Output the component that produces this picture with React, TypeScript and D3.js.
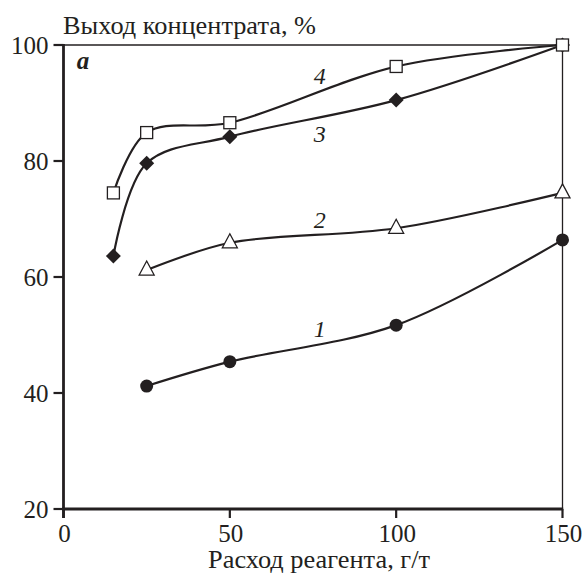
import React from "react";
import * as d3 from "d3";

const xTicks = [0, 50, 100, 150];
const yTicks = [20, 40, 60, 80, 100];

const s1x = [25, 50, 100, 150];
const s1y = [41.2, 45.4, 51.7, 66.4];
const s2x = [25, 50, 100, 150];
const s2y = [61.2, 65.9, 68.4, 74.5];
const s3x = [15, 25, 50, 100, 150];
const s3y = [63.6, 79.6, 84.2, 90.5, 100];
const s4x = [15, 25, 50, 100, 150];
const s4y = [74.5, 84.9, 86.6, 96.3, 100];

const seriesLabels = ["1", "2", "3", "4"];
const labelPos = [
  [77, 49.7],
  [77, 68.4],
  [77, 83.3],
  [77, 93.3],
];

const title = "Выход концентрата, %";
const xTitle = "Расход реагента, г/т";
const panel = "a";

const W = 583;
const H = 574;
const ink = "#231f20";

export default function App() {
  const x = d3.scaleLinear().domain([0, 150]).range([63.5, 562.5]);
  const y = d3.scaleLinear().domain([20, 100]).range([509, 45]);
  const zip = (xs: number[], ys: number[]) => xs.map((v, i) => [v, ys[i]] as [number, number]);
  const line = d3
    .line<[number, number]>()
    .x((d) => x(d[0]))
    .y((d) => y(d[1]))
    .curve(d3.curveCatmullRom.alpha(0.5));

  const d1 = zip(s1x, s1y);
  const d2 = zip(s2x, s2y);
  const d3s = zip(s3x, s3y);
  const d4 = zip(s4x, s4y);

  return (
    <svg width={W} height={H} style={{ position: "absolute", left: 0, top: 0, background: "#fff" }}>
      <style>{`text { font-family: "Liberation Serif", serif; }`}</style>
      <rect width={W} height={H} fill="#fff" />
      <line x1={x(0)} x2={x(150)} y1={y(100)} y2={y(100)} stroke={ink} strokeWidth={1.3} />
      <line x1={x(150)} x2={x(150)} y1={y(100)} y2={y(20)} stroke={ink} strokeWidth={1.3} />
      <line x1={x(0)} x2={x(0)} y1={y(100) - 1} y2={y(20) + 9} stroke={ink} strokeWidth={2.8} />
      <line x1={x(0) - 1.4} x2={x(150) + 0.7} y1={y(20)} y2={y(20)} stroke={ink} strokeWidth={2.8} />
      {yTicks.map((t) => (
        <g key={"y" + t}>
          <line x1={x(0) - 10} x2={x(0)} y1={y(t)} y2={y(t)} stroke={ink} strokeWidth={2.2} />
          <text x={48.5} y={y(t) + 8.5} textAnchor="end" fontSize={25} fill={ink}>
            {t}
          </text>
        </g>
      ))}
      {xTicks.map((t) => (
        <g key={"x" + t}>
          <line x1={x(t)} x2={x(t)} y1={y(20)} y2={y(20) + 9} stroke={ink} strokeWidth={2.2} />
          <text x={x(t) + 1} y={542} textAnchor="middle" fontSize={25} fill={ink}>
            {t}
          </text>
        </g>
      ))}
      <text x={63} y={34} fontSize={25} fill={ink} textLength={253} lengthAdjust="spacingAndGlyphs">
        {title}
      </text>
      <text x={208} y={568} fontSize={25} fill={ink} textLength={222} lengthAdjust="spacingAndGlyphs">
        {xTitle}
      </text>
      <text x={83} y={68.5} textAnchor="middle" fontSize={25} fontWeight="bold" fontStyle="italic" fill={ink}>
        {panel}
      </text>

      {[d1, d2, d3s, d4].map((d, i) => (
        <path key={"l" + i} d={line(d) || ""} fill="none" stroke={ink} strokeWidth={2.2} />
      ))}

      {seriesLabels.map((l, i) => (
        <text
          key={"s" + l}
          x={x(labelPos[i][0])}
          y={y(labelPos[i][1])}
          textAnchor="middle"
          fontSize={24}
          fontStyle="italic"
          fill={ink}
        >
          {l}
        </text>
      ))}

      {d1.map((p, i) => (
        <circle key={"c" + i} cx={x(p[0])} cy={y(p[1])} r={6.5} fill={ink} />
      ))}
      {d2.map((p, i) => {
        const cx = x(p[0]);
        const cy = y(p[1]);
        return (
          <path
            key={"t" + i}
            d={`M${cx},${cy - 9}L${cx + 7.5},${cy + 5}L${cx - 7.5},${cy + 5}Z`}
            fill="#fff"
            stroke={ink}
            strokeWidth={1.3}
          />
        );
      })}
      {d3s.map((p, i) => {
        const cx = x(p[0]);
        const cy = y(p[1]);
        return (
          <path
            key={"d" + i}
            d={`M${cx},${cy - 7.5}L${cx + 7.5},${cy}L${cx},${cy + 7.5}L${cx - 7.5},${cy}Z`}
            fill={ink}
          />
        );
      })}
      {d4.map((p, i) => (
        <rect
          key={"q" + i}
          x={x(p[0]) - 6}
          y={y(p[1]) - 6}
          width={12}
          height={12}
          fill="#fff"
          stroke={ink}
          strokeWidth={1.3}
        />
      ))}
    </svg>
  );
}
